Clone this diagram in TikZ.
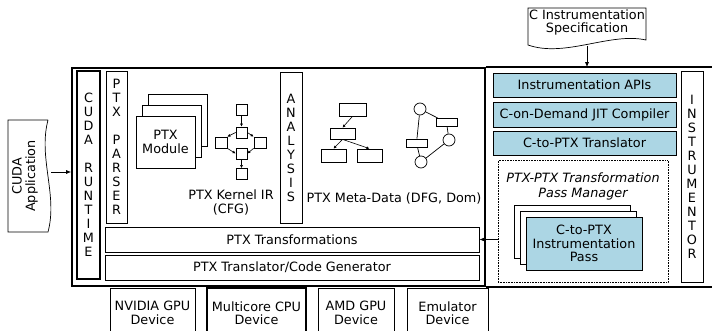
\documentclass[tikz,border=0pt]{standalone}
\usepackage{fontspec}
\setmainfont{DejaVu Sans}
\usetikzlibrary{arrows.meta}

\definecolor{instblue}{RGB}{172,214,228}

\begin{document}
\begin{tikzpicture}[x=1pt, y=-1pt,
    box/.style={draw, line width=0.8pt, fill=white, inner sep=0pt, align=center,
        font=\fontsize{12.8}{13.5}\selectfont},
    bluebox/.style={box, fill=instblue},
    vcol/.style={box, font=\fontsize{12.8}{14}\selectfont},
    cell/.style={draw, line width=0.7pt, fill=white, inner sep=0pt},
    gnode/.style={draw, circle, line width=0.7pt, fill=white, inner sep=0pt, minimum size=12pt},
    txt/.style={inner sep=0pt, align=center, font=\fontsize{12.8}{13.5}\selectfont},
    arr/.style={-{Latex[length=5pt,width=4pt]}, line width=0.7pt},
    smallarr/.style={-{Latex[length=3pt,width=3pt]}, line width=0.6pt}]
    \def\fw{1.6pt}
    \useasboundingbox (0,0) rectangle (712,331);
    \clip (0,0) rectangle (712,331);

    % main frame and the open part on the right
    \node[draw, line width=\fw, minimum width=413pt, minimum height=218pt, inner sep=0pt] (frame) at (278.5,177) {};
    \draw[line width=\fw] (frame.north east) -- ++(240,0);
    \draw[line width=\fw] (frame.south east) -- ++(240,0);

    % vertical columns
    \node[vcol, line width=1.1pt, minimum width=23pt, minimum height=208pt] (runtime) at (88.5,175)
        {C\\U\\D\\A\\[14pt]R\\U\\N\\T\\I\\M\\E};
    \node[vcol, minimum width=21pt, minimum height=152pt] (parser) at (116.5,147)
        {P\\T\\X\\[14pt]P\\A\\R\\S\\E\\R};
    \node[vcol, minimum width=22pt, minimum height=151pt] (analysis) at (291,147.5)
        {A\\N\\A\\L\\Y\\S\\I\\S};

    % PTX module stack
    \node[box, minimum width=59pt, minimum height=52pt] (modback) at (177.5,120) {};
    \node[box, minimum width=59pt, minimum height=52pt] (modmid) at (171.5,131) {};
    \node[box, minimum width=59pt, minimum height=52pt] (module) at (165.5,142) {PTX\\Module};

    % kernel CFG
    \node[cell, minimum width=11pt, minimum height=11pt] (n1) at (241.5,110) {};
    \node[cell, minimum width=11pt, minimum height=11pt] (n2) at (241.5,132.5) {};
    \node[cell, minimum width=12pt, minimum height=11pt] (cl) at (221,142.5) {};
    \node[cell, minimum width=12pt, minimum height=11pt] (cr) at (260,142.5) {};
    \node[cell, minimum width=11pt, minimum height=11pt] (n3) at (241.5,153.5) {};
    \node[cell, minimum width=11pt, minimum height=11pt] (n4) at (241.5,174) {};
    \draw[smallarr] (n1) -- (n2);
    \draw[smallarr] (n2.west) -- (cl.north east);
    \draw[smallarr] (n2.east) -- (cr.north west);
    \draw[smallarr] (cl.south east) -- (n3.west);
    \draw[smallarr] (cr.south west) -- (n3.east);
    \draw[smallarr] (n3) -- (n4);
    \node[txt] (kernel) at (231,202.5) {PTX Kernel IR\\(CFG)};

    % meta-data: dominator tree and data-flow graph
    \node[cell, minimum width=27pt, minimum height=13pt] (t1) at (352.5,109.5) {};
    \node[cell, minimum width=25pt, minimum height=11pt] (t2) at (342.5,133.5) {};
    \node[cell, minimum width=25pt, minimum height=13pt] (t3) at (333.5,155.5) {};
    \node[cell, minimum width=25pt, minimum height=13pt] (t4) at (369.5,155.5) {};
    \draw[smallarr] (t1.south) -- (t2.north);
    \draw[smallarr] (t2.south) -- (t3.north);
    \draw[smallarr] (t2.south) -- (t4.north);

    \node[gnode] (c1) at (420,109) {};
    \node[cell, minimum width=21pt, minimum height=8pt] (r1) at (446.5,122.5) {};
    \node[gnode] (c2) at (449,140) {};
    \node[cell, minimum width=21pt, minimum height=8pt] (r2) at (416.5,143) {};
    \node[gnode] (c3) at (421,162) {};
    \draw[line width=0.7pt] (c1) -- (r1) (r1) -- (c2) (c2) -- (c3) (c1) -- (r2) (r2) -- (c3);
    \node[txt] (meta) at (394,198) {PTX Meta-Data (DFG, Dom)};

    % transformation and code generation
    \node[box, minimum width=374pt, minimum height=25pt] (xform) at (292,239.5) {PTX Transformations};
    \node[box, minimum width=374pt, minimum height=25pt] (codegen) at (292,267.5) {PTX Translator/Code Generator};

    % instrumentor
    \node[bluebox, minimum width=183pt, minimum height=24pt] (apis) at (584.5,85) {Instrumentation APIs};
    \node[bluebox, minimum width=183pt, minimum height=25pt] (jit) at (584.5,114.5) {C-on-Demand JIT Compiler};
    \node[bluebox, minimum width=183pt, minimum height=24pt] (c2ptx) at (584.5,143) {C-to-PTX Translator};
    \node[bluebox, vcol, minimum width=22pt, minimum height=211pt] (instr) at (692,176.5)
        {I\\N\\S\\T\\R\\U\\M\\E\\N\\T\\O\\R};

    \node[draw, densely dotted, line width=0.6pt, minimum width=170pt, minimum height=122pt] (passmgr) at (583,221.5) {};
    \node[txt, font=\fontsize{12.8}{15}\selectfont\itshape] (mgrname) at (583,186) {PTX-PTX Transformation\\Pass Manager};
    \node[box, minimum width=116pt, minimum height=53pt] (passback) at (572,231.5) {};
    \node[box, minimum width=116pt, minimum height=53pt] (passmid) at (578,237.5) {};
    \node[bluebox, minimum width=116pt, minimum height=53pt] (pass) at (584,243.5) {C-to-PTX\\Instrumentation\\Pass};
    \draw[arr] (xform.east -| passmgr.west) -- (xform.east);

    % C instrumentation specification
    \draw[line width=0.7pt, fill=white] (528,8) -- (646,8) -- (646,40)
        .. controls (610,32) and (565,58) .. (528,45) -- cycle;
    \node[txt] (spec) at (587,22.5) {C Instrumentation\\Specification};
    \coordinate (specout) at (587,46);
    \draw[arr] (specout) -- (specout |- frame.north);

    % CUDA application
    \draw[line width=0.7pt, fill=white] (48,120) -- (8,120) -- (8,232) -- (48,232)
        .. controls (58,195) and (38,158) .. (48,120);
    \node[txt, rotate=90] (app) at (25,176) {CUDA\\Application};
    \coordinate (appout) at (51,172);
    \draw[arr] (appout) -- (appout -| frame.west);

    % target devices
    \node[box, minimum width=85pt, minimum height=50pt] (nvidia) at (152.5,313) {NVIDIA GPU\\Device};
    \node[box, line width=1.2pt, minimum width=99pt, minimum height=50pt] (multicore) at (256.5,313) {Multicore CPU\\Device};
    \node[box, minimum width=76pt, minimum height=50pt] (amd) at (356,313) {AMD GPU\\Device};
    \node[box, minimum width=81pt, minimum height=50pt] (emu) at (447.5,313) {Emulator\\Device};
\end{tikzpicture}
\end{document}
